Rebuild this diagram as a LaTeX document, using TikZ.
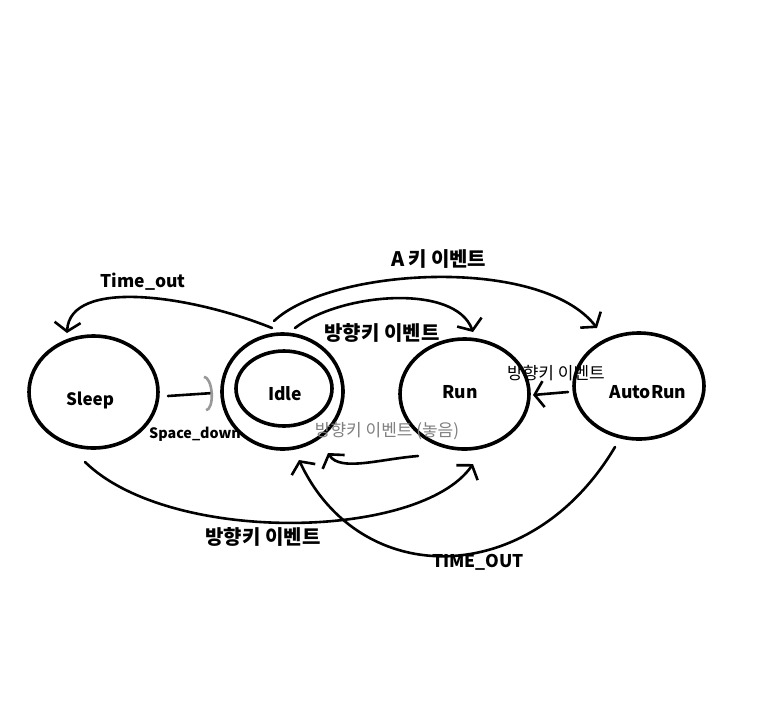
\documentclass[tikz,border=0pt]{standalone}
\usepackage{fontspec}
\setmainfont{Noto Sans CJK KR}
\usetikzlibrary{arrows.meta,shapes.geometric}
\tikzset{
  state/.style={draw, ellipse, line width=3.6pt, inner sep=0pt},
  conn/.style={line width=2.6pt, line cap=round, line join=round,
    -{Straight Barb[length=9pt,width=26pt,line width=2.6pt]}},
  lbl/.style={font=\fontsize{17.5}{19}\selectfont\bfseries, inner sep=0pt},
  klbl/.style={font=\fontsize{20}{22}\selectfont\bfseries, inner sep=0pt},
  slbl/.style={font=\fontsize{17}{19}\selectfont, inner sep=0pt},
}
\begin{document}
\begin{tikzpicture}[x=1pt,y=-1pt]
\useasboundingbox[fill=white] (0,0) rectangle (783,707);
% states
\node[state, minimum width=129pt, minimum height=112pt] (sleep) at (93.5,392) {};
\node[lbl, font=\fontsize{17}{19}\selectfont\bfseries] (sleepT) at (90,400) {Sleep};
\node[state, minimum width=121pt, minimum height=115pt] (idle) at (282.5,391.5) {};
\node[state, minimum width=96pt, minimum height=75pt] (idlein) at (284,388.5) {};
\node[lbl] (idleT) at (285,394) {Idle};
\node[state, minimum width=129pt, minimum height=110pt] (run) at (464.5,394) {};
\node[lbl] (runT) at (460,392) {Run};
\node[state, minimum width=130pt, minimum height=106pt] (auto) at (639,386) {};
\node[lbl] (autoT) at (648,392) {AutoRun};
% free ends
\coordinate (c1s) at (272,328);
\coordinate (c1e) at (67,333);
\coordinate (c2s) at (168,396);
\coordinate (c2e) at (213,393);
\coordinate (c3s) at (274,321);
\coordinate (c3e) at (597,328);
\coordinate (c4s) at (295,328);
\coordinate (c4e) at (473,332);
\coordinate (c5s) at (568,392);
\coordinate (c5e) at (533,395);
\coordinate (c6s) at (418,456);
\coordinate (c6e) at (328,453);
\coordinate (c7s) at (615,447);
\coordinate (c7e) at (299,460);
\coordinate (c8s) at (85,462);
\coordinate (c8e) at (473,464);
% connectors
\draw[conn] (c1s) .. controls (190,295) and (70,278) .. (c1e);
\draw[line width=2.6pt, line cap=round,
  -{Arc Barb[length=8pt,width=36pt,line width=2.6pt,color=gray!80]}] (c2s) -- (c2e);
\draw[conn] (c3s) .. controls (330,268) and (540,255) .. (c3e);
\draw[conn] (c4s) .. controls (340,293) and (455,283) .. (c4e);
\draw[conn] (c5s) -- (c5e);
\draw[conn] (c6s) .. controls (380,459) and (340,472) .. (c6e);
\draw[conn] (c7s) .. controls (530,590) and (360,590) .. (c7e);
\draw[conn] (c8s) .. controls (170,545) and (420,540) .. (c8e);
% labels
\node[lbl] (l1) at (143,282) {Time\_out};
\node[lbl, font=\fontsize{14.3}{16}\selectfont\bfseries] (l2) at (195,434) {Space\_down};
\node[klbl] (l3) at (439,259) {A\,키 이벤트};
\node[klbl] (l4) at (382,333) {방향키 이벤트};
\node[slbl] (l5) at (556,373) {방향키 이벤트};
\node[slbl, text=gray] (l6) at (387,431) {방향키 이벤트 (놓음)};
\node[klbl] (l7) at (263,537) {방향키 이벤트};
\node[lbl] (l8) at (478,562) {TIME\_OUT};
\end{tikzpicture}
\end{document}
